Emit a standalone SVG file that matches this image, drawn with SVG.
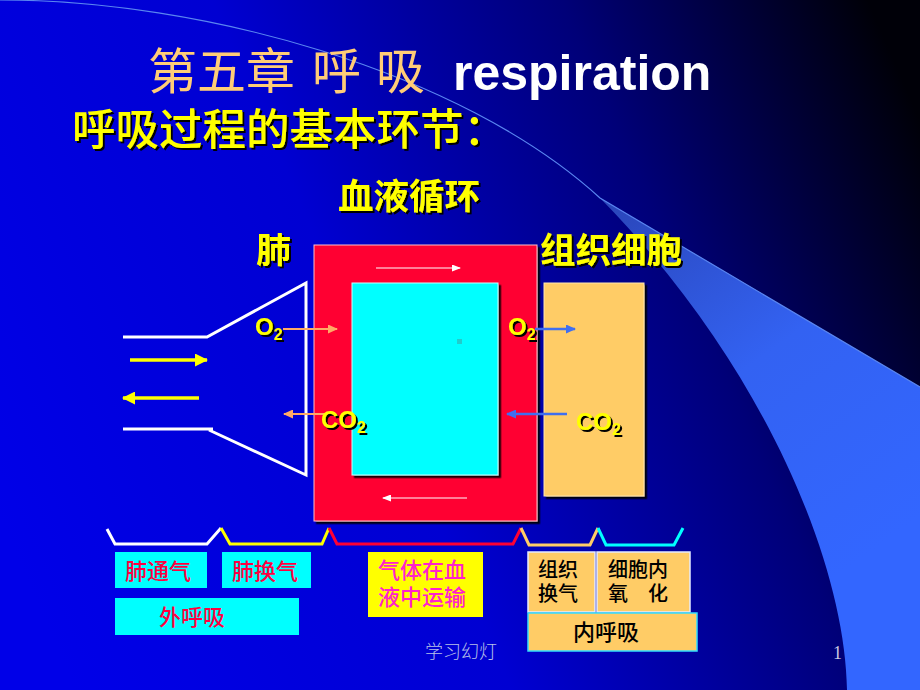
<svg xmlns="http://www.w3.org/2000/svg" width="920" height="690" viewBox="0 0 920 690">
<defs>
<linearGradient id="bg" gradientUnits="userSpaceOnUse" x1="0" y1="520" x2="920" y2="120">
<stop offset="0" stop-color="#0000E8"/>
<stop offset="0.4" stop-color="#0000D2"/>
<stop offset="0.72" stop-color="#000078"/>
<stop offset="1" stop-color="#000008"/>
</linearGradient>
<linearGradient id="sw" gradientUnits="userSpaceOnUse" x1="600" y1="200" x2="860" y2="560">
<stop offset="0" stop-color="#2A45B8"/>
<stop offset="0.5" stop-color="#3362F2"/>
<stop offset="1" stop-color="#3366FF"/>
</linearGradient>
<filter id="ts" x="-10%" y="-10%" width="130%" height="140%">
<feDropShadow dx="2" dy="2" stdDeviation="0" flood-color="#000" flood-opacity="1"/>
</filter>
<filter id="bs" x="-5%" y="-5%" width="115%" height="115%">
<feDropShadow dx="2.5" dy="2.5" stdDeviation="0" flood-color="#000" flood-opacity="0.9"/>
</filter>
<marker id="mw" markerWidth="9" markerHeight="7" refX="8" refY="3.5" orient="auto" markerUnits="userSpaceOnUse">
<path d="M0,0 L9,3.5 L0,7 Z" fill="#fff"/>
</marker>
<marker id="my" markerWidth="13" markerHeight="13" refX="12" refY="6.5" orient="auto" markerUnits="userSpaceOnUse">
<path d="M0,0 L13,6.5 L0,13 Z" fill="#FFFF00"/>
</marker>
<marker id="mo" markerWidth="10" markerHeight="9" refX="9" refY="4.5" orient="auto" markerUnits="userSpaceOnUse">
<path d="M0,0 L10,4.5 L0,9 Z" fill="#FFAA66"/>
</marker>
<marker id="mb" markerWidth="10" markerHeight="9" refX="9" refY="4.5" orient="auto" markerUnits="userSpaceOnUse">
<path d="M0,0 L10,4.5 L0,9 Z" fill="#3F6FF0"/>
</marker>
<style>
.cjk{font-family:"Noto Sans CJK SC","Noto Sans CJK TC",sans-serif}
.lbl{font-family:"Noto Sans CJK SC",sans-serif;font-weight:bold;fill:#FFFF00;filter:url(#ts)}
.gas{font-family:"Liberation Sans",Arial,sans-serif;font-weight:bold;fill:#FFFF00;filter:url(#ts)}
.box{stroke-width:1.5}
.bt{font-family:"Noto Sans CJK SC",sans-serif;font-size:22px;font-weight:500}
.bk{font-family:"Noto Sans CJK SC",sans-serif;font-size:20px;font-weight:500;fill:#000}
.brace{fill:none;stroke-width:3;stroke-linejoin:miter}
</style>
</defs>
<rect x="0" y="0" width="920" height="690" fill="url(#bg)"/>
<g id="swoosh">
<path d="M600,198 L920,387 L920,690 L847,690 C845,560 760,360 600,198 Z" fill="url(#sw)"/>
<path d="M0,0 C200,0 460,70 600,198 L920,387" fill="none" stroke="#5A86F0" stroke-width="1.2"/>
</g>
<g id="title">
<text x="148" y="89" class="cjk" font-size="49" fill="#FFCC77">第五章</text>
<text x="312" y="89" class="cjk" font-size="49" fill="#FFCC77">呼</text>
<text x="376" y="89" class="cjk" font-size="49" fill="#FFCC77">吸</text>
<text x="453" y="90" font-family="Liberation Sans,Arial,sans-serif" font-weight="bold" font-size="50" fill="#FFFFFF">respiration</text>
<text x="72" y="145" class="cjk" font-size="43.5" font-weight="500" fill="#FFFF00" filter="url(#ts)">呼吸过程的基本环节：</text>
</g>
<g id="labels">
<text x="338" y="209" class="lbl" font-size="35.5">血液循环</text>
<text x="256" y="263" class="lbl" font-size="35">肺</text>
<text x="540" y="263" class="lbl" font-size="35.5">组织细胞</text>
</g>
<g id="blood">
<rect x="314" y="245" width="223" height="276" fill="#FF0033" stroke="#FFC0C8" stroke-width="1" filter="url(#bs)"/>
<rect x="352" y="283" width="146" height="192" fill="#00FFFF" stroke="#C8FFFF" stroke-width="1" filter="url(#bs)"/>
<rect x="457" y="339" width="5" height="5" fill="#22CCCC"/>
</g>
<g id="tissue">
<rect x="544" y="283" width="100" height="213" fill="#FFCC66" stroke="#FFE6B0" stroke-width="1" filter="url(#bs)"/>
</g>
<g id="lung">
<path d="M123,337 L207,337 L306,283 L306,475 L209,430 M123,429 L213,429" fill="none" stroke="#FFFFFF" stroke-width="3"/>
</g>
<g id="connectors">
<line x1="376" y1="268" x2="460" y2="268" stroke="#fff" stroke-width="1.2" marker-end="url(#mw)"/>
<line x1="467" y1="498" x2="383" y2="498" stroke="#fff" stroke-width="1.2" marker-end="url(#mw)"/>
<line x1="130" y1="360" x2="207" y2="360" stroke="#FFFF00" stroke-width="3.5" marker-end="url(#my)"/>
<line x1="199" y1="398" x2="123" y2="398" stroke="#FFFF00" stroke-width="3.5" marker-end="url(#my)"/>
<line x1="283" y1="329" x2="337" y2="329" stroke="#FFAA66" stroke-width="2" marker-end="url(#mo)"/>
<line x1="325" y1="414" x2="284" y2="414" stroke="#FFAA66" stroke-width="2" marker-end="url(#mo)"/>
<line x1="535" y1="329" x2="575" y2="329" stroke="#3F6FF0" stroke-width="2.5" marker-end="url(#mb)"/>
<line x1="567" y1="414" x2="507" y2="414" stroke="#3F6FF0" stroke-width="2.5" marker-end="url(#mb)"/>
</g>
<g id="gases">
<text x="255" y="335" class="gas" font-size="24">O<tspan font-size="16" dy="5">2</tspan></text>
<text x="321" y="428" class="gas" font-size="24">CO<tspan font-size="16" dy="5">2</tspan></text>
<text x="508" y="335" class="gas" font-size="24">O<tspan font-size="16" dy="5">2</tspan></text>
<text x="576" y="430" class="gas" font-size="24">CO<tspan font-size="16" dy="5">2</tspan></text>
</g>
<g id="braces">
<polyline class="brace" stroke="#FFFFFF" points="107,529 115,544 207,544 221,528"/>
<polyline class="brace" stroke="#FFFF00" points="221,528 230,544 322,544 329,528"/>
<polyline class="brace" stroke="#FF0033" points="329,528 337,544 513,544 521,528"/>
<polyline class="brace" stroke="#FFCC66" points="521,528 529,545 590,545 598,528"/>
<polyline class="brace" stroke="#00FFFF" points="598,528 606,545 674,545 683,528"/>
</g>
<g id="b1"><rect x="115" y="552" width="92" height="36" fill="#00FFFF"/><text x="125" y="579" class="bt" fill="#FF0040">肺通气</text></g>
<g id="b2"><rect x="222" y="552" width="89" height="36" fill="#00FFFF"/><text x="232" y="579" class="bt" fill="#FF0040">肺换气</text></g>
<g id="b3"><rect x="115" y="598" width="184" height="37" fill="#00FFFF"/><text x="159" y="625" class="bt" fill="#FF0040">外呼吸</text></g>
<g id="b4"><rect x="368" y="552" width="115" height="65" fill="#FFFF00"/><text x="378" y="578" class="bt" fill="#FF22CC">气体在血</text><text x="378" y="605" class="bt" fill="#FF22CC">液中运输</text></g>
<g id="b5"><rect x="528" y="552" width="67" height="60" fill="#FFCC66" stroke="#E6ECFF" class="box"/><text x="538" y="577" class="bk">组织</text><text x="538" y="601" class="bk">换气</text></g>
<g id="b6"><rect x="597" y="552" width="93" height="60" fill="#FFCC66" stroke="#E6ECFF" class="box"/><text x="608" y="577" class="bk">细胞内</text><text x="608" y="601" class="bk">氧　化</text></g>
<g id="b7"><rect x="528" y="613" width="169" height="38" fill="#FFCC66" stroke="#33DDFF" class="box"/><text x="573" y="640" class="bt" font-weight="bold" fill="#000">内呼吸</text></g>
<g id="footer">
<text x="425" y="658" class="cjk" font-size="18" fill="#B8C0E8" font-weight="300">学习幻灯</text>
<text x="833" y="659" font-family="Liberation Serif,serif" font-size="18" fill="#C8C8E0">1</text>
</g>
</svg>
